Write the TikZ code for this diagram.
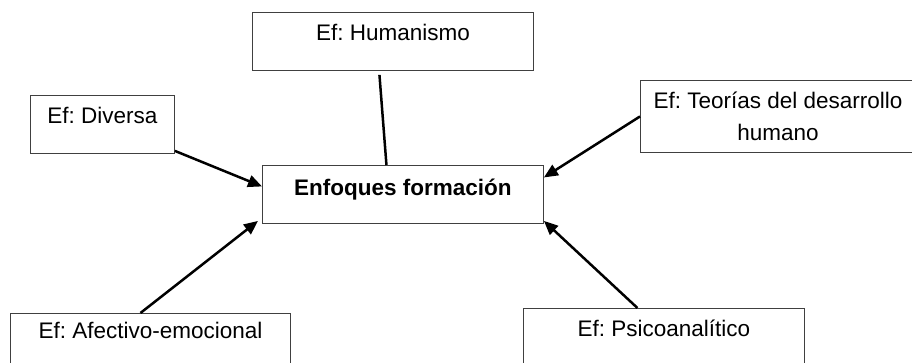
\documentclass[tikz,border=0pt]{standalone}
\usepackage{fontspec}
\setmainfont{Liberation Sans}
\usetikzlibrary{arrows.meta}
\frenchspacing
\begin{document}
\begin{tikzpicture}[x=1pt,y=-1pt,
  ebox/.style={draw=black!75, line width=0.9pt, rectangle, inner sep=0pt,
    anchor=north west, font=\fontsize{22.5}{31.6}\selectfont, align=center},
  conn/.style={line width=2.5pt, black},
  arr/.style={conn, -{Triangle[length=14pt,width=12pt]}}]
\useasboundingbox (0,0) rectangle (912,363);
\clip (0,0) rectangle (912,363);
\node[ebox, minimum width=281pt, minimum height=58pt, text height=28pt, text depth=30pt] (hum) at (252,12) {Ef: Humanismo};
\node[ebox, minimum width=144pt, minimum height=58pt, text height=28.3pt, text depth=29.7pt] (div) at (30,95) {Ef: Diversa};
\node[ebox, minimum width=281pt, minimum height=58pt, text height=30pt, text depth=28pt] (cen) at (262,165) {\bfseries Enfoques formación};
\node[ebox, minimum width=275pt, minimum height=72pt] (teo) at (640,80) {Ef: Teorías del desarrollo\\humano};
\node[ebox, minimum width=280pt, minimum height=62pt, text height=25pt, text depth=37pt] (afe) at (10,313) {Ef: Afectivo-emocional};
\node[ebox, minimum width=281pt, minimum height=67pt, text height=28pt, text depth=39pt] (psi) at (523,308) {Ef: Psicoanalítico};
\draw[conn] ([xshift=-13.5pt,yshift=-4pt]hum.south) -- ([xshift=-16.5pt]cen.north);
\draw[arr] ([yshift=3pt]div.south east) -- ([yshift=8pt]cen.west);
\draw[arr] (teo.west) -- ([yshift=17pt]cen.east);
\draw[arr] ([xshift=-10pt]afe.north) -- ([xshift=-4pt,yshift=3pt]cen.south west);
\draw[arr] ([xshift=-26.5pt]psi.north) -- ([yshift=3pt]cen.south east);
\end{tikzpicture}
\end{document}
